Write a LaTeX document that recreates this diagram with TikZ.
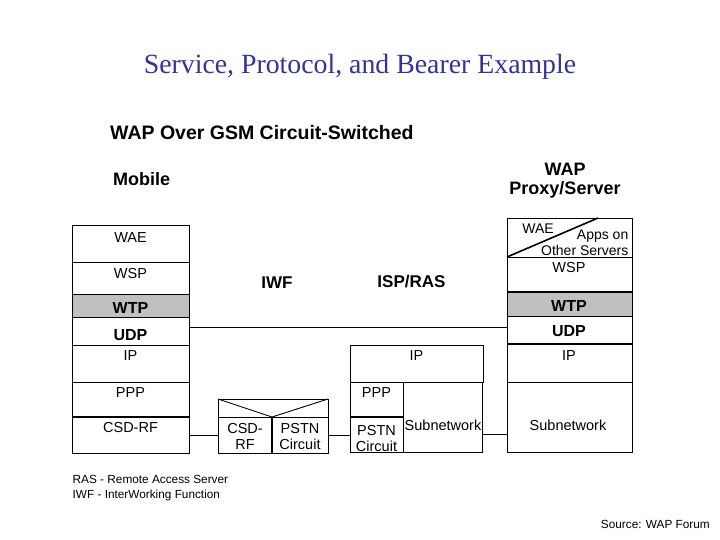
\documentclass[tikz,border=0pt]{standalone}
\usepackage{fontspec}
\setmainfont{Liberation Sans}
\newfontfamily\serifhead{Liberation Serif}
\usepackage{tikz}
\usetikzlibrary{positioning}
\definecolor{SlideBlue}{HTML}{333399}
\definecolor{LayerGray}{HTML}{C0C0C0}

\begin{document}
\begin{tikzpicture}[
    x=1pt,y=-1pt,
    cell/.style 2 args={draw,line width=.9pt,inner sep=0pt,outer sep=0pt,
      minimum width=#1pt,minimum height=#2pt},
    shaded/.style={fill=LayerGray},
    lbl/.style={anchor=base,inner sep=0pt,font=\fontsize{14.5}{16}\selectfont},
    pair/.style={inner sep=0pt,align=center,font=\fontsize{14.5}{16}\selectfont},
    blbl/.style={anchor=base,inner sep=0pt,font=\fontsize{16}{18}\selectfont\bfseries},
    head/.style={inner sep=0pt,align=center,font=\fontsize{18}{19}\selectfont\bfseries},
    note/.style={inner sep=0pt,font=\fontsize{11.8}{15}\selectfont},
    link/.style={line width=.9pt},
    heavy/.style={line width=2pt}
  ]
  \path[fill=white,use as bounding box] (0,0) rectangle (720,540);
  % headings
  \node[anchor=base,inner sep=0pt,text=SlideBlue,font=\serifhead\fontsize{27.8}{30}\selectfont]
    (title) at (360,73.3) {Service, Protocol, and Bearer Example};
  \node[anchor=base west,inner sep=0pt,font=\fontsize{19.5}{22}\selectfont\bfseries]
    (sub) at (110,140) {WAP Over GSM Circuit-Switched};
  \node[head,anchor=base west] (mobile) at (113,185.5) {Mobile};
  \node[head,anchor=north] (proxy) at (565,163.3) {WAP\\Proxy/Server};
  \node[head,anchor=base,font=\fontsize{17}{19}\selectfont\bfseries] (iwf) at (277,288.5) {IWF};
  \node[head,anchor=base,font=\fontsize{17}{19}\selectfont\bfseries] (isp) at (411.5,287.5) {ISP/RAS};

  % mobile stack
  \node[cell={117}{37}] (mWAE) at (130.5,243.5) {};
  \node[cell={117}{32},below=0pt of mWAE] (mWSP) {};
  \node[cell={117}{23.5},shaded,below=0pt of mWSP] (mWTP) {};
  \node[cell={117}{27.5},below=0pt of mWTP] (mUDP) {};
  \node[cell={117}{37},below=0pt of mUDP] (mIP) {};
  \node[cell={117}{35},below=0pt of mIP] (mPPP) {};
  \node[cell={117}{36},below=0pt of mPPP] (mCSD) {};
  \draw[heavy] (mCSD.north west) -- (mCSD.north east);
  \node[lbl] (mWAEt) at (130.5,242) {WAE};
  \node[lbl] (mWSPt) at (130.5,278.5) {WSP};
  \node[blbl] (mWTPt) at (130.5,313.5) {WTP};
  \node[blbl] (mUDPt) at (130.5,340) {UDP};
  \node[lbl] (mIPt) at (130.5,360.5) {IP};
  \node[lbl] (mPPPt) at (130.5,397) {PPP};
  \node[lbl] (mCSDt) at (130.5,432.5) {CSD-RF};

  % IWF box
  \node[cell={110}{18}] (iTop) at (273,408) {};
  \node[cell={54}{36},below right=0pt and 0pt of iTop.south west] (iCSD) {};
  \node[cell={56}{36},right=0pt of iCSD] (iPSTN) {};
  \draw[link] (iTop.north west) -- (iCSD.north east) -- (iTop.north east);
  \draw[heavy] (iCSD.north east) -- (iCSD.south east);
  \node[pair,anchor=north] (iCSDt) at (245,423.3) {CSD-\\RF};
  \node[pair,anchor=north] (iPSTNt) at (300,423.3) {PSTN\\Circuit};

  % ISP/RAS box
  \node[cell={133}{37}] (sIP) at (416.5,363.5) {};
  \node[cell={53}{35},below right=0pt and 0pt of sIP.south west] (sPPP) {};
  \node[cell={53}{35},below=0pt of sPPP] (sPSTN) {};
  \node[cell={79}{70},below right=0pt and 0pt of sPPP.north east] (sSub) {};
  \draw[heavy] (sPSTN.north west) -- (sPSTN.north east);
  \node[lbl] (sIPt) at (416.5,360) {IP};
  \node[lbl] (sPPPt) at (376.5,397) {PPP};
  \node[pair,anchor=north] (sPSTNt) at (376.5,425) {PSTN\\Circuit};
  \node[lbl] (sSubt) at (443,430) {Subnetwork};

  % proxy/server stack
  \node[cell={125}{39}] (pWAE) at (569.5,237.5) {};
  \node[cell={125}{35},below=0pt of pWAE] (pWSP) {};
  \node[cell={125}{24},shaded,below=0pt of pWSP] (pWTP) {};
  \node[cell={125}{28},below=0pt of pWTP] (pUDP) {};
  \node[cell={125}{38},below=0pt of pUDP] (pIP) {};
  \node[cell={125}{70},below=0pt of pIP] (pSub) {};
  \draw[heavy] (pWTP.north west) -- (pWTP.north east);
  \draw[heavy] (pIP.north west) -- (pIP.north east);
  \draw[line width=1.6pt] (pWAE.south west) -- ([xshift=91pt]pWAE.north west);
  \node[lbl,font=\fontsize{14}{16}\selectfont] (pWAEt) at (538,233.7) {WAE};
  \node[pair,align=right,anchor=north east,font=\fontsize{14}{16.6}\selectfont]
    (pAppst) at (628.5,229.3) {Apps on\\Other Servers};
  \node[lbl] (pWSPt) at (569,272.5) {WSP};
  \node[blbl] (pWTPt) at (569,311.5) {WTP};
  \node[blbl] (pUDPt) at (569,336) {UDP};
  \node[lbl] (pIPt) at (569,360) {IP};
  \node[lbl] (pSubt) at (568,430) {Subnetwork};

  % links between the stacks
  \coordinate (udpL) at ([yshift=3.5pt]mUDP.east);
  \draw[link] (udpL) -- (udpL -| pUDP.west);
  \draw[link] (mCSD.east) -- (iCSD.west);
  \draw[link] (iPSTN.east) -- (iPSTN.east -| sPSTN.west);
  \draw[link] (sSub.east |- sPSTN.east) -- (pSub.west |- sPSTN.east);

  % notes
  \node[note,anchor=base west] (rasNote) at (72.5,483.3) {RAS - Remote Access Server};
  \node[note,anchor=base west] (iwfNote) at (72.5,498.3) {IWF - InterWorking Function};
  \node[note,anchor=base east] (source) at (710,528.3) {Source: WAP Forum};
\end{tikzpicture}
\end{document}
